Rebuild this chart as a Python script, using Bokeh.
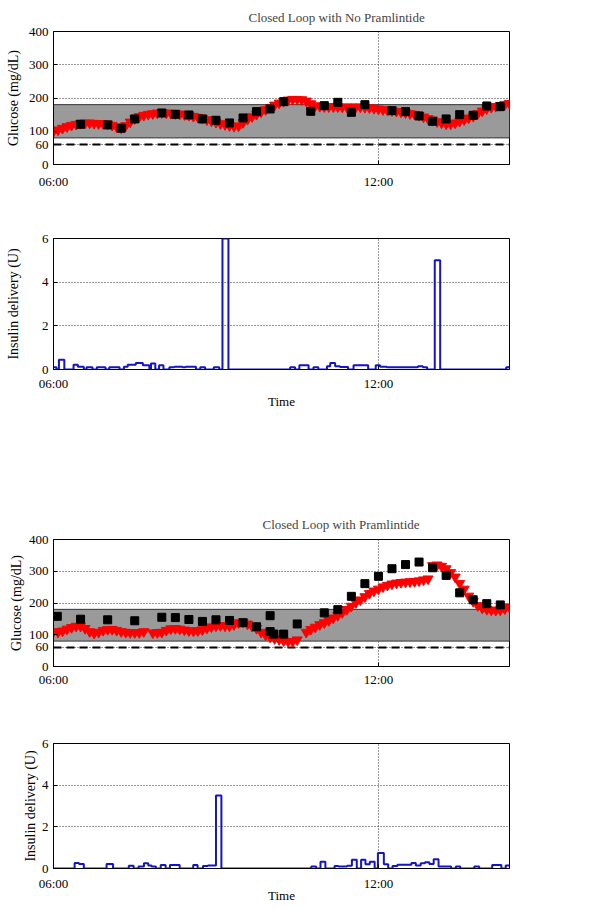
from bokeh.plotting import figure
from bokeh.layouts import column
from bokeh.models import FixedTicker, Range1d
from bokeh.embed import file_html
from bokeh.resources import INLINE

NAN = float("nan")
FONT = "Liberation Serif"

# ---------------- data ----------------
x_start, x_end = 6.0, 14.42          # hours of day (06:00 ... ~14:25)
x_ticks = [6, 12]
x_tick_labels = {6: "06:00", 12: "12:00"}
glucose_ticks = [0, 60, 100, 200, 300, 400]
insulin_ticks = [0, 2, 4, 6]
target_range = [80, 180]              # mg/dL shaded band
hypo_threshold = 60                   # dashed line
cgm_interval_min = 5

titles = ["Closed Loop with No Pramlintide", "Closed Loop with Pramlintide"]

# CGM (red triangles), every 5 min from 06:00
cgm_no_pram = [100, 104, 109, 114, 118, 121, 124, 125, 125, 124, 123, 123,
               122, 118, 113, 110, 117, 128, 138, 144, 148, 151, 153, 155,
               156, 155, 154, 153, 152, 150, 148, 145, 142, 139, 135, 131,
               127, 123, 120, 117, 115, 116, 126, 136, 144, 151, 158, 165,
               172, 179, 185, 190, 194, 196, 196, 195, 191, 183, 177, 175,
               174, 174, 174, 174, 173, 173, 173, 173, 173, 172, 171, 169,
               167, 165, 163, 162, 160, 158, 156, 153, 151, 148, 143, 138,
               134, 129, 125, 122, 122, 125, 130, 135, 140, 145, 153, 161,
               168, 172, 175, 178, 181, 184]
cgm_pram = [110, 108, 112, 118, 123, 127, 127, 120, 110, 105, 108, 114,
            117, 117, 114, 110, 108, 107, 107, 107, 110, NAN, 106, 107,
            108, 114, 119, 120, 118, 115, 113, 112, 113, 116, 121, 125,
            128, 129, 128, 128, 132, 138, 140, 134, 127, 120, 108, 99,
            93, 88, 85, 81, 79, 79, 84, NAN, 108, 117, 124, 132,
            138, 145, 153, 161, 170, 180, 190, 201, 210, 220, 230, 238,
            244, 251, 256, 260, 263, 265, 266, 267, 268, 270, 273, 276,
            318, 320, 316, 308, 296, 282, 262, 244, 222, 205, 192, 184,
            180, 178, 177, 178, 182, 188]

# Reference blood glucose (black squares)
ref_t_no_pram = [6.5, 7.0, 7.25, 7.5, 8.0, 8.25, 8.5, 8.75, 9.0, 9.25, 9.5,
                 9.75, 10.0, 10.25, 10.75, 11.0, 11.25, 11.5, 11.75, 12.25,
                 12.5, 12.75, 13.0, 13.25, 13.5, 13.75, 14.0, 14.25]
ref_g_no_pram = [121, 119, 109, 137, 155, 151, 149, 137, 133, 125, 140,
                 159, 167, 189, 160, 177, 187, 157, 180, 162,
                 159, 146, 130, 137, 150, 148, 176, 174]
ref_t_pram = [6.07, 6.5, 7.0, 7.5, 8.0, 8.25, 8.5, 8.75, 9.0, 9.25, 9.5,
              9.75, 10.0, 10.0, 10.07, 10.25, 10.5, 11.0, 11.25, 11.5, 11.75,
              12.0, 12.25, 12.5, 12.75, 13.0, 13.25, 13.5, 13.75, 14.0, 14.25]
ref_g_pram = [158, 149, 147, 144, 155, 154, 148, 142, 147, 145, 138,
              125, 160, 110, 102, 102, 134, 169, 179, 221, 261,
              284, 308, 321, 329, 311, 287, 232, 210, 198, 194]

# Insulin delivery (U): step start times (h) and levels
ins_t_no_pram = [6.0, 6.055, 6.10, 6.20, 6.37, 6.45, 6.56, 6.61, 6.72, 6.80,
                 6.96, 7.03, 7.22, 7.30, 7.37, 7.52, 7.65, 7.77, 7.80, 7.88,
                 7.95, 8.03, 8.14, 8.23, 8.38, 8.44, 8.63, 8.71, 8.80, 8.96,
                 9.06, 9.12, 9.23, 10.37, 10.46, 10.54, 10.71, 10.80, 10.89,
                 11.05, 11.11, 11.20, 11.29, 11.44, 11.54, 11.81, 11.95,
                 12.03, 12.15, 12.73, 12.82, 12.90, 13.04, 13.14, 14.36]
ins_u_no_pram = [0.1, 0, 0.45, 0, 0.22, 0.13, 0, 0.1, 0, 0.1,
                 0, 0.1, 0, 0.13, 0.22, 0.3, 0.2, 0, 0.27, 0,
                 0.2, 0, 0.1, 0.13, 0.1, 0.13, 0, 0.1, 0, 0.1,
                 0, 6.0, 0, 0.1, 0, 0.2, 0, 0.1, 0,
                 0.15, 0.3, 0.15, 0.12, 0, 0.2, 0, 0.2,
                 0.13, 0.1, 0.15, 0.1, 0, 5.0, 0, 0.1]
ins_t_pram = [6.0, 6.39, 6.47, 6.56, 6.98, 7.10, 7.39, 7.48, 7.57, 7.67,
              7.75, 7.81, 7.89, 7.98, 8.07, 8.15, 8.33, 8.58, 8.66, 8.76,
              8.85, 9.00, 9.10, 10.76, 10.85, 10.93, 11.02, 11.19, 11.26,
              11.42, 11.51, 11.60, 11.68, 11.76, 11.84, 11.93, 11.99, 12.10,
              12.18, 12.26, 12.35, 12.61, 12.69, 12.78, 12.86, 12.94, 13.02,
              13.11, 13.34, 13.43, 13.51, 13.77, 13.86, 14.10, 14.27, 14.35]
ins_u_pram = [0, 0.27, 0.22, 0, 0.22, 0, 0.13, 0, 0.1, 0.25,
              0.15, 0.1, 0, 0.17, 0, 0.17, 0, 0.17, 0, 0.12,
              0.15, 3.5, 0, 0.1, 0, 0.33, 0, 0.12, 0.1,
              0.13, 0.42, 0, 0.42, 0.2, 0.33, 0, 0.75, 0.2,
              0, 0.12, 0.18, 0.27, 0.15, 0.25, 0.3, 0.22, 0.45,
              0.1, 0, 0.1, 0, 0.1, 0, 0.17, 0, 0.15]


def cgm_times(values):
    return [x_start + i * cgm_interval_min / 60.0 for i in range(len(values))]


def style(p, y_ticks, ylabel, label_standoff, tick_standoff, xlabel=None,
          xlabel_standoff=0):
    p.outline_line_color = "black"
    p.outline_line_alpha = 1.0
    p.outline_line_width = 1
    p.background_fill_color = "white"
    p.border_fill_color = "white"
    p.xaxis.ticker = FixedTicker(ticks=x_ticks)
    p.xaxis.major_label_overrides = x_tick_labels
    p.yaxis.ticker = FixedTicker(ticks=y_ticks)
    for ax in (p.xaxis[0], p.yaxis[0]):
        ax.major_tick_in = 4
        ax.major_tick_out = 0
        ax.minor_tick_in = 0
        ax.minor_tick_out = 0
        ax.major_tick_line_color = "black"
        ax.axis_line_color = "black"
        ax.major_label_text_font = FONT
        ax.major_label_text_font_size = "13px"
        ax.major_label_text_color = "black"
        ax.axis_label_text_font = FONT
        ax.axis_label_text_font_style = "normal"
        ax.axis_label_text_color = "black"
    p.yaxis.axis_label = ylabel
    p.yaxis.axis_label_text_font_size = "14px"
    p.yaxis.axis_label_standoff = label_standoff
    p.yaxis.major_label_standoff = 5
    p.xaxis.major_label_standoff = tick_standoff
    if xlabel:
        p.xaxis.axis_label = xlabel
        p.xaxis.axis_label_text_font_size = "13px"
        p.xaxis.axis_label_standoff = xlabel_standoff
    p.xgrid.ticker = FixedTicker(ticks=[12])
    p.ygrid.ticker = FixedTicker(ticks=y_ticks)
    for g in (p.xgrid[0], p.ygrid[0]):
        g.grid_line_color = "#333333"
        g.grid_line_dash = "1 2"
        g.grid_line_width = 1


def glucose_panel(title, cgm, ref_t, ref_g, height, left, right, top, bottom,
                  title_offset, title_standoff, label_standoff, tick_standoff):
    p = figure(width=588, height=height, output_backend="svg",
               toolbar_location=None, x_range=Range1d(x_start, x_end),
               y_range=Range1d(0, 400), min_border_left=left,
               min_border_right=right, min_border_top=top,
               min_border_bottom=bottom)
    p.title.text = title
    p.title.align = "left"
    p.title.offset = title_offset
    p.title.standoff = title_standoff
    p.title.text_font = FONT
    p.title.text_font_size = "13px"
    p.title.text_font_style = "normal"
    p.quad(left=[x_start], right=[x_end], bottom=[target_range[0]],
           top=[target_range[1]], fill_color="#9a9a9a", line_color="#333333",
           line_width=1)
    p.line([x_start, x_end], [hypo_threshold, hypo_threshold],
           line_color="black", line_width=2, line_dash="8 5")
    p.scatter(cgm_times(cgm), cgm, marker="inverted_triangle", size=10,
              fill_color="red", line_color="red")
    p.scatter(ref_t, ref_g, marker="square", size=8, fill_color="black",
              line_color="black")
    style(p, glucose_ticks, "Glucose (mg/dL)", label_standoff, tick_standoff)
    return p


def insulin_panel(t, u, height, left, right, top, bottom, label_standoff,
                  tick_standoff, xlabel_standoff):
    p = figure(width=588, height=height, output_backend="svg",
               toolbar_location=None, x_range=Range1d(x_start, x_end),
               y_range=Range1d(0, 6), min_border_left=left,
               min_border_right=right, min_border_top=top,
               min_border_bottom=bottom)
    xs = list(t) + [x_end]
    ys = list(u) + [u[-1]]
    p.step(xs, ys, mode="after", line_color="#1414c8", line_width=2)
    style(p, insulin_ticks, "Insulin delivery (U)", label_standoff,
          tick_standoff, xlabel="Time", xlabel_standoff=xlabel_standoff)
    return p


p1 = glucose_panel(titles[0], cgm_no_pram, ref_t_no_pram, ref_g_no_pram,
                   height=200, left=52, right=79, top=31, bottom=36,
                   title_offset=195, title_standoff=14, label_standoff=5,
                   tick_standoff=9)
p2 = insulin_panel(ins_t_no_pram, ins_u_no_pram, height=300, left=52,
                   right=79, top=38, bottom=131, label_standoff=18,
                   tick_standoff=6, xlabel_standoff=0)
p3 = glucose_panel(titles[1], cgm_pram, ref_t_pram, ref_g_pram,
                   height=200, left=53, right=76, top=39, bottom=34,
                   title_offset=209, title_standoff=16, label_standoff=2,
                   tick_standoff=5)
p4 = insulin_panel(ins_t_pram, ins_u_pram, height=206, left=53, right=76,
                   top=43, bottom=38, label_standoff=1, tick_standoff=7,
                   xlabel_standoff=-6)

layout = column(p1, p2, p3, p4, spacing=0)
open("out.html", "w").write(file_html(layout, INLINE))
